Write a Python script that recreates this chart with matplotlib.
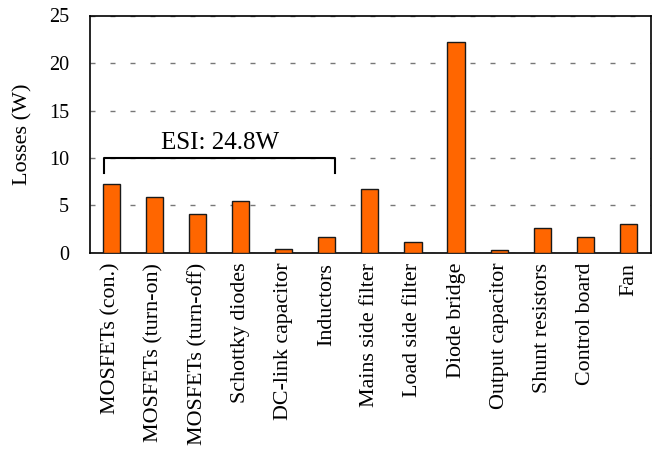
import matplotlib
matplotlib.use("Agg")
import matplotlib.pyplot as plt

categories = [
    "MOSFETs (con.)", "MOSFETs (turn-on)", "MOSFETs (turn-off)", "Schottky diodes",
    "DC-link capacitor", "Inductors", "Mains side filter", "Load side filter",
    "Diode bridge", "Output capacitor", "Shunt resistors", "Control board", "Fan",
]
losses = [7.25, 5.9, 4.1, 5.5, 0.4, 1.65, 6.75, 1.15, 22.2, 0.28, 2.65, 1.65, 3.05]
yticks = [0, 5, 10, 15, 20, 25]
esi_label = "ESI: 24.8W"

plt.rcParams["font.family"] = ["Liberation Serif", "DejaVu Serif"]

fig = plt.figure(figsize=(6.58, 4.5), dpi=100)
ax = fig.add_axes([90 / 658, 1 - 253 / 450, (651 - 90) / 658, (253 - 15.5) / 450])

x = list(range(len(categories)))
ax.bar(x, losses, width=0.4, color="#FF6600", edgecolor="#1a1a1a", linewidth=1.0, zorder=3)

ax.set_xlim(-0.49, len(categories) - 0.48)
ax.set_ylim(0, 25)
ax.set_yticks(yticks)
ax.set_yticklabels([str(v) for v in yticks], fontsize=14.5)
ax.set_xticks(x)
ax.set_xticklabels(categories, rotation=90, fontsize=15.8)
ax.tick_params(axis="y", length=0, pad=15)
ax.tick_params(axis="x", length=0, pad=7)

ax.yaxis.grid(True, color="#777777", linestyle=(0, (3.6, 10.8)), linewidth=1.0)
ax.set_axisbelow(True)
for s in ax.spines.values():
    s.set_color("black")
    s.set_linewidth(1.2)

ax.set_ylabel("Losses (W)", fontsize=16, labelpad=12)

# bracket grouping the ESI components
x0, x1, ytop, ybot = -0.16, 5.2, 10.0, 8.4
ax.plot([x0, x0, x1, x1], [ybot, ytop, ytop, ybot], color="black", linewidth=1.5, zorder=4)
ax.text((x0 + x1) / 2, ytop + 0.45, esi_label, ha="center", va="bottom", fontsize=18)

fig.savefig("out.png", dpi=100)
